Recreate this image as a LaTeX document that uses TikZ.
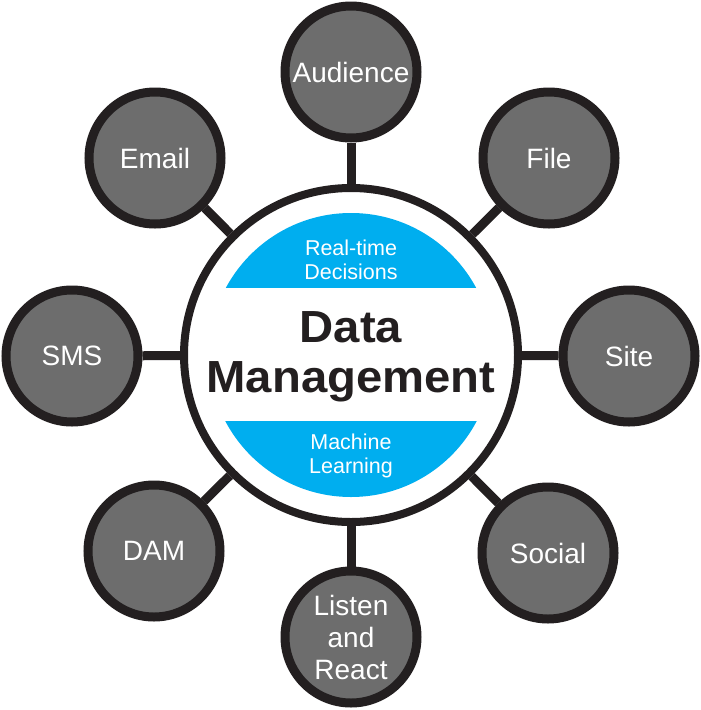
\documentclass[tikz,border=0pt]{standalone}
\usepackage{fontspec}
\setmainfont{Liberation Sans}
\usetikzlibrary{backgrounds}
\definecolor{ringcol}{HTML}{231F20}
\definecolor{satfill}{HTML}{6D6D6D}
\definecolor{segblue}{HTML}{00AEEF}
\begin{document}
\begin{tikzpicture}[x=1pt,y=-1pt,
  sat/.style={circle,draw=ringcol,line width=9pt,fill=satfill,minimum size=132pt,inner sep=0pt,
    text=white,font=\fontsize{28}{32}\selectfont,align=center},
  hub/.style={circle,draw=ringcol,line width=8pt,fill=white,minimum size=334pt,inner sep=0pt},
  link/.style={draw=ringcol,line width=9pt},
  segtext/.style={text=white,font=\fontsize{21.5}{24.5}\selectfont,align=center},
  bigtext/.style={text=ringcol,font=\fontsize{45}{50}\bfseries\selectfont,align=center}]
\useasboundingbox (0,0) rectangle (701,710);
\coordinate (pc) at (351,355);
\node[hub] (hub) at (pc) {};
\node[sat] (aud) at (351,72) {Audience};
\node[sat] (file) at (549,158) {File};
\node[sat] (site) at (629,356) {Site};
\node[sat] (soc) at (548,553) {Social};
\node[sat] (lis) at (351,637) {Listen\\and\\React};
\node[sat] (dam) at (154,551) {DAM};
\node[sat] (sms) at (72,356) {SMS};
\node[sat] (mail) at (155,158) {Email};
\begin{scope}
  \clip (pc) circle (142);
  \fill[segblue] (200,200) rectangle (502,288);
  \fill[segblue] (200,421) rectangle (502,510);
\end{scope}
\node[segtext] (rt) at (351,260) {Real-time\\Decisions};
\node[segtext] (ml) at (351,456) {Machine\\Learning};
\node[bigtext] (dm) at (351,357) {\scalebox{1.05}[1]{Data}\\\scalebox{1.05}[1]{Management}};
\begin{scope}[on background layer]
  \fill[white] (0,0) rectangle (701,710);
  \foreach \s in {aud,file,site,soc,lis,dam,sms,mail}{
    \draw[link] (hub) -- (\s);
  }
\end{scope}
\end{tikzpicture}
\end{document}
